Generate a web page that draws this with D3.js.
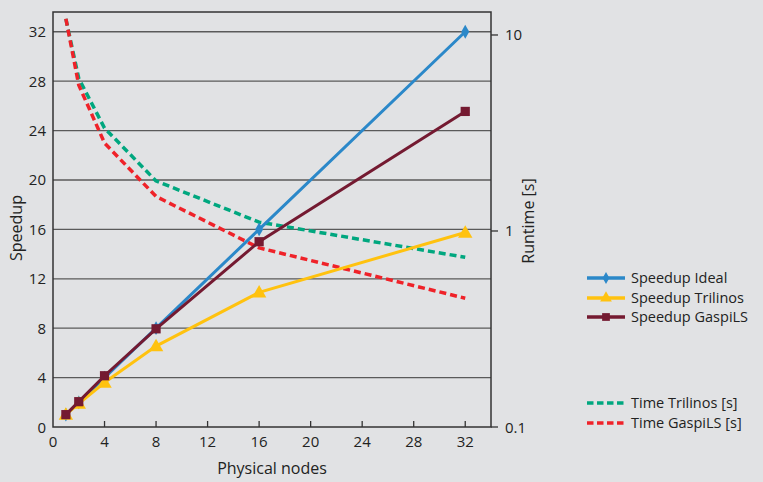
<!DOCTYPE html>
<html><head><meta charset="utf-8">
<script src="https://cdn.jsdelivr.net/npm/d3@7"></script>
<style>
body{margin:0;background:#e1e2e4;}
svg{display:block;font-family:"Open Sans",sans-serif;}
</style></head>
<body><svg id="c" width="763" height="482"></svg>
<script>
const nodes = [1, 2, 4, 8, 16, 32];
const speedupIdeal = [1, 2, 4, 8, 16, 32];
const speedupTrilinos = [1, 1.9, 3.6, 6.55, 10.9, 15.75];
const speedupGaspiLS = [1, 2.05, 4.15, 7.95, 15, 25.55];
const timeTrilinos = [12.1, 6.0, 3.35, 1.8, 1.11, 0.734];
const timeGaspiLS = [12.1, 5.55, 2.81, 1.5, 0.82, 0.454];
const xTicks = [0, 4, 8, 12, 16, 20, 24, 28, 32];
const yTicks = [0, 4, 8, 12, 16, 20, 24, 28, 32];
const y2Ticks = [0.1, 1, 10];
const y2Labels = ["0.1", "1", "10"];

const svg = d3.select("#c");
const L = 53, R = 491, T = 12, B = 427;
const x = d3.scaleLinear().domain([0, 34]).range([L, R]);
const y = d3.scaleLinear().domain([0, 33.6]).range([B, T]);
const y2 = d3.scaleLog().domain([0.1, 13.1]).range([B, T]);

// gridlines
svg.append("g").selectAll("line").data(yTicks.filter(d => d > 0)).join("line")
  .attr("x1", L).attr("x2", R).attr("y1", d => y(d)).attr("y2", d => y(d))
  .attr("stroke", "#5a5a5a").attr("stroke-width", 1.3);

// frame
svg.append("rect").attr("x", L).attr("y", T).attr("width", R - L).attr("height", B - T)
  .attr("fill", "none").attr("stroke", "#333").attr("stroke-width", 1.5);

// bottom axis ticks (inward)
svg.append("g").selectAll("line").data(xTicks.filter(d => d > 0)).join("line")
  .attr("x1", d => x(d)).attr("x2", d => x(d)).attr("y1", B).attr("y2", B - 6)
  .attr("stroke", "#333").attr("stroke-width", 1.3);
svg.append("g").selectAll("text").data(xTicks).join("text")
  .attr("x", d => x(d)).attr("y", B + 20).attr("text-anchor", "middle")
  .attr("font-size", 15).attr("fill", "#222").text(d => d);

// left axis labels
svg.append("g").selectAll("text").data(yTicks).join("text")
  .attr("x", 46).attr("y", d => y(d) + 5.5).attr("text-anchor", "end")
  .attr("font-size", 15).attr("fill", "#222").text(d => d);

// right axis ticks
svg.append("g").selectAll("line").data(y2Ticks).join("line")
  .attr("x1", R).attr("x2", R + 7).attr("y1", d => y2(d)).attr("y2", d => y2(d))
  .attr("stroke", "#333").attr("stroke-width", 1.3);
svg.append("g").selectAll("text").data(y2Ticks).join("text")
  .attr("x", R + 14).attr("y", d => y2(d) + 5.5).attr("text-anchor", "start")
  .attr("font-size", 15).attr("fill", "#222").text((d, i) => y2Labels[i]);

// axis titles
svg.append("text").attr("x", 272).attr("y", 474).attr("text-anchor", "middle")
  .attr("font-size", 16).attr("fill", "#222").text("Physical nodes");
svg.append("text").attr("transform", "translate(22,228) rotate(-90)").attr("text-anchor", "middle")
  .attr("font-size", 16).attr("fill", "#222").text("Speedup");
svg.append("text").attr("transform", "translate(534,221) rotate(-90)").attr("text-anchor", "middle")
  .attr("font-size", 16).attr("fill", "#222").text("Runtime [s]");

const cBlue = "#2b88c9", cYellow = "#ffc20f", cMaroon = "#741a31", cGreen = "#00a77f", cRed = "#ef2229";

// dashed runtime lines
const lineT = d3.line().x((d, i) => x(nodes[i])).y(d => y2(d));
[[timeTrilinos, cGreen], [timeGaspiLS, cRed]].forEach(([data, col]) => {
  svg.append("path").attr("d", lineT(data)).attr("fill", "none").attr("stroke", col)
    .attr("stroke-width", 3.5).attr("stroke-dasharray", "7,4").attr("stroke-linejoin", "round");
});

// speedup lines
const lineS = d3.line().x((d, i) => x(nodes[i])).y(d => y(d));
const sym = {
  diamond: d3.symbol().type(d3.symbolDiamond).size(55),
  triangle: d3.symbol().type(d3.symbolTriangle).size(90),
  square: d3.symbol().type(d3.symbolSquare).size(85)
};
const series = [
  [speedupIdeal, cBlue, "diamond"],
  [speedupTrilinos, cYellow, "triangle"],
  [speedupGaspiLS, cMaroon, "square"]
];
series.forEach(([data, col, s]) => {
  svg.append("path").attr("d", lineS(data)).attr("fill", "none").attr("stroke", col).attr("stroke-width", 3);
  svg.append("g").selectAll("path").data(data).join("path")
    .attr("d", sym[s]()).attr("fill", col)
    .attr("transform", (d, i) => `translate(${x(nodes[i])},${y(d) + (s === "triangle" ? 1 : 0)})`);
});

// legend
const leg = [
  ["Speedup Ideal", cBlue, "diamond", 278],
  ["Speedup Trilinos", cYellow, "triangle", 298],
  ["Speedup GaspiLS", cMaroon, "square", 317],
  ["Time Trilinos [s]", cGreen, null, 403],
  ["Time GaspiLS [s]", cRed, null, 423]
];
leg.forEach(([label, col, s, ly]) => {
  const g = svg.append("g");
  g.append("line").attr("x1", 587).attr("x2", 625).attr("y1", ly).attr("y2", ly)
    .attr("stroke", col).attr("stroke-width", 3.5)
    .attr("stroke-dasharray", s ? null : "6.5,3.5");
  if (s) g.append("path").attr("d", d3.symbol().type(
      s === "diamond" ? d3.symbolDiamond : s === "triangle" ? d3.symbolTriangle : d3.symbolSquare
    ).size(s === "diamond" ? 40 : 60)()).attr("fill", col).attr("transform", `translate(606,${ly})`);
  g.append("text").attr("x", 631).attr("y", ly + 5).attr("font-size", 14.5).attr("fill", "#222").text(label);
});
</script></body></html>
